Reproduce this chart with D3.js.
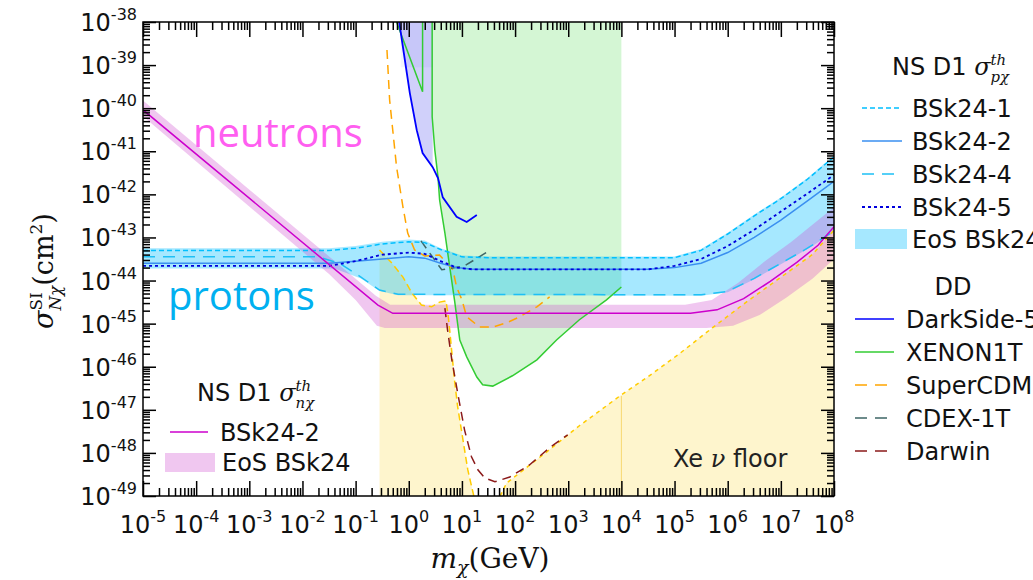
<!DOCTYPE html>
<html>
<head>
<meta charset="utf-8">
<script src="https://cdnjs.cloudflare.com/ajax/libs/d3/7.8.5/d3.min.js"></script>
<style>
  body { margin: 0; background: #fff; }
  svg { display: block; }
</style>
</head>
<body>
<div id="chart"></div>
<script>
// all values are [log10 m (GeV), log10 sigma (cm^2)]

// neutrons, NS D1 BSk24-2 and EoS band
const nLine = [[-5, -40.04], [-0.58, -44.57], [-0.3, -44.76], [5.3, -44.76], [5.8, -44.68], [6.3, -44.42],
  [6.8, -44.02], [7.3, -43.58], [7.7, -43.18], [8, -42.75]];
const nBandUp = [[-5, -39.82], [-0.62, -44.35], [-0.35, -44.56], [5.2, -44.56], [5.7, -44.45], [6.2, -44.05],
  [6.7, -43.55], [7.2, -43.1], [7.6, -42.7], [8, -42.3]];
const nBandLo = [[-5, -40.19], [-1.5, -43.85], [-1.0, -44.45], [-0.6, -45.05], [-0.45, -45.1], [5.6, -45.1],
  [6.1, -45.05], [6.6, -44.8], [7.1, -44.4], [7.6, -43.95], [8, -43.5]];

// protons, NS D1 lines and EoS band
const pBandUp = [[-5, -43.25], [-1.5, -43.25], [-1, -43.2], [-0.5, -43.1], [0, -43.05], [0.3, -43.07], [0.6, -43.25],
  [1, -43.42], [1.5, -43.44], [5.0, -43.44], [5.5, -43.27], [6, -42.89], [6.5, -42.47], [7, -42.07], [7.5, -41.62], [8, -41.1]];
const pBandLo = [[-5, -43.72], [-1.4, -43.72], [-0.9, -43.95], [-0.55, -44.24], [-0.2, -44.34], [5.5, -44.35],
  [6, -44.27], [6.5, -43.97], [7, -43.62], [7.5, -43.27], [8, -42.88]];
const p1 = [[-5, -43.3], [-1.5, -43.3], [-1, -43.25], [-0.5, -43.15], [0, -43.1], [0.3, -43.12], [0.6, -43.28],
  [1, -43.45], [1.5, -43.47], [5.0, -43.47], [5.5, -43.3], [6, -42.92], [6.5, -42.5], [7, -42.1], [7.5, -41.65], [8, -41.13]];
const p2 = [[-5, -43.6], [-1.5, -43.6], [-1, -43.55], [-0.5, -43.5], [0, -43.45], [0.3, -43.48], [0.6, -43.6],
  [0.9, -43.7], [1.2, -43.74], [4.5, -43.74], [5, -43.7], [5.5, -43.6], [6, -43.35], [6.5, -43.0], [7, -42.6], [7.5, -42.15], [8, -41.7]];
const p4 = [[-5, -43.45], [-1.7, -43.45], [-1.3, -43.6], [-0.9, -43.92], [-0.55, -44.22], [-0.2, -44.32], [5.5, -44.33],
  [6, -44.25], [6.5, -43.95], [7, -43.6], [7.5, -43.25], [8, -42.85]];
const p5 = [[-5, -43.66], [-1.5, -43.66], [-1, -43.55], [-0.5, -43.4], [0, -43.35], [0.3, -43.38], [0.6, -43.55],
  [0.9, -43.7], [1.2, -43.74], [4.5, -43.74], [5, -43.66], [5.5, -43.5], [6, -43.2], [6.5, -42.82], [7, -42.4], [7.5, -41.98], [8, -41.55]];

// direct detection
const darkside = [[-0.18, -38.0], [-0.11, -38.58], [0.02, -39.65], [0.15, -40.51], [0.26, -41.04], [0.45, -41.37],
  [0.55, -41.62], [0.64, -42.07], [0.9, -42.52], [1.09, -42.64], [1.28, -42.48]];
const darksideEdge = 0.45;
const darksideShade = -39.05;
const xenonV = [[-0.23, -38.0], [0.26, -39.62], [0.26, -38.0]];
const xenon = [[0.44, -38.0], [0.44, -40.2], [0.49, -40.97], [0.55, -41.6], [0.58, -42.13], [0.68, -42.9], [0.77, -43.68],
  [0.86, -44.45], [0.96, -45.38], [1.09, -45.77], [1.28, -46.24], [1.39, -46.42], [1.58, -46.45], [1.95, -46.21],
  [2.41, -45.84], [2.78, -45.38], [3.21, -44.91], [3.72, -44.45], [4.0, -44.15]];
const superCDMS = [[-0.41, -38.65], [-0.36, -39.81], [-0.23, -41.36], [-0.11, -42.29], [-0.02, -42.9], [0.11, -43.29],
  [0.3, -43.43], [0.58, -43.41], [0.83, -43.75], [0.9, -44.15], [1.0, -44.45], [1.09, -44.84], [1.33, -45.08],
  [1.58, -45.08], [1.84, -44.98], [2.09, -44.84], [2.41, -44.61], [2.65, -44.38]];
const cdex = [[0.23, -43.08], [0.62, -43.75], [1.05, -43.66], [1.47, -43.34]];
const darwin = [[0.68, -44.64], [0.73, -45.15], [0.81, -45.84], [0.92, -46.61], [1.05, -47.47], [1.18, -48.09],
  [1.3, -48.39], [1.43, -48.58], [1.62, -48.67], [1.9, -48.56], [2.27, -48.28], [2.65, -47.88], [2.99, -47.58]];

// Xe neutrino floor, two branches
const floorLow = [[-0.55, -43.29], [-0.3, -43.62], [-0.11, -43.92], [0.06, -44.29], [0.24, -44.57], [0.43, -44.61],
  [0.58, -44.5], [0.7, -44.47], [0.74, -44.8], [0.77, -45.15], [0.86, -46.31], [0.92, -46.93], [1.02, -47.7],
  [1.11, -48.39], [1.24, -49.09]];
const floorHigh = [[1.72, -49.0], [1.84, -48.7], [2.59, -47.98], [3.21, -47.37], [3.97, -46.68], [4.47, -46.26],
  [5.09, -45.7], [5.71, -45.1], [6.35, -44.5], [6.97, -43.95], [7.59, -43.4], [8, -42.83]];
const floorSplit = 4;

// axes
const xDecades = d3.range(-5, 9);
const yDecades = d3.range(-49, -37);

const pLegend = ["BSk24-1", "BSk24-2", "BSk24-4", "BSk24-5"];
const ddLegend = ["DarkSide-50", "XENON1T", "SuperCDMS", "CDEX-1T", "Darwin"];

const W = 1033, H = 580;
const L = 143, R = 834, T = 22, B = 496;

const svg = d3.select("#chart").append("svg")
  .attr("width", W).attr("height", H)
  .style("font-family", "DejaVu Sans");

const x = d3.scaleLog().domain([1e-5, 1e8]).range([L, R]);
const y = d3.scaleLog().domain([1e-49, 1e-38]).range([B, T]);
const X = d => x(Math.pow(10, d[0]));
const Y = d => y(Math.pow(10, d[1]));
const line = d3.line().x(X).y(Y);
const poly = pts => line(pts) + "Z";
const yLow = -49.3, yHigh = -37.9;

svg.append("clipPath").attr("id", "plot").append("rect")
  .attr("x", L).attr("y", T).attr("width", R - L).attr("height", B - T);
const g = svg.append("g").attr("clip-path", "url(#plot)");

// fills
const floorFill = "#fef5cd";
g.append("path").attr("d", poly([[floorLow[0][0], yLow], ...floorLow, [floorLow[floorLow.length - 1][0], yLow]]))
  .attr("fill", floorFill);
g.append("path").attr("d", poly([[floorHigh[0][0], yLow], ...floorHigh, [floorHigh[floorHigh.length - 1][0], yLow]]))
  .attr("fill", floorFill);

const xe = xenon.slice(1);
g.append("path").attr("d", poly([[xenon[0][0], yHigh], ...xe, [xe[xe.length - 1][0], yHigh]]))
  .attr("fill", "rgba(0,200,0,0.17)");

const ds = darkside.filter(d => d[0] <= darksideEdge);
g.append("path").attr("d", poly([[ds[0][0], yHigh], ...ds, [darksideEdge, yHigh]]))
  .attr("fill", "rgba(40,40,230,0.22)");
// slightly darker upper part of the DarkSide region
g.append("rect").attr("x", X([darksideEdge - 0.6, 0])).attr("y", T)
  .attr("width", X([darksideEdge, 0]) - X([darksideEdge - 0.6, 0]))
  .attr("height", Y([0, darksideShade]) - T)
  .attr("fill", "rgba(40,40,230,0.05)");

g.append("path").attr("d", poly([...pBandUp, ...pBandLo.slice().reverse()]))
  .attr("fill", "rgba(0,190,255,0.35)");
g.append("path").attr("d", poly([...nBandUp, ...nBandLo.slice().reverse()]))
  .attr("fill", "rgba(205,70,205,0.3)");

// lines
function drawLine(data, color, dash, width) {
  g.append("path").attr("d", line(data)).attr("fill", "none")
    .attr("stroke", color).attr("stroke-width", width || 1.5)
    .attr("stroke-dasharray", dash || null);
}
const floorCol = "#ffcc00";
drawLine(floorLow, floorCol, "7,4");
drawLine(floorHigh, floorCol, "4,4");
// vertical joint in the floor fill at 10^4 GeV
g.append("line")
  .attr("x1", x(Math.pow(10, floorSplit))).attr("x2", x(Math.pow(10, floorSplit)))
  .attr("y1", y(Math.pow(10, -46.68))).attr("y2", B)
  .attr("stroke", "#f7d870").attr("stroke-width", 1);

drawLine(xenonV, "#33cc33");
drawLine(xenon, "#33cc33");
drawLine(darkside, "#0000ff", null, 1.8);
drawLine(superCDMS, "#ffa500", "9,6");
drawLine(cdex, "#3e6666", "9,6");
drawLine(darwin, "#8b1a1a", "9,6");

const pStyles = [
  { c: "#00bfff", d: "5,3", w: 1.5 },
  { c: "#3a8ff0", d: null, w: 1.5 },
  { c: "#1ec0f5", d: "12,8", w: 1.5 },
  { c: "#0000dd", d: "3,3", w: 1.8 }
];
[p1, p2, p4, p5].forEach((p, i) => drawLine(p, pStyles[i].c, pStyles[i].d, pStyles[i].w));
drawLine(nLine, "#cc00cc");

// ticks, inward on all four sides
const xMinor = [], yMinor = [];
xDecades.slice(0, -1).forEach(k => d3.range(2, 10).forEach(j => xMinor.push(j * Math.pow(10, k))));
yDecades.slice(0, -1).forEach(k => d3.range(2, 10).forEach(j => yMinor.push(j * Math.pow(10, k))));
const xMajor = xDecades.map(k => Math.pow(10, k));
const yMajor = yDecades.map(k => Math.pow(10, k));

function ticks(axis, pos) {
  const a = svg.append("g").attr("transform", pos).call(axis);
  a.select(".domain").remove();
  a.selectAll("line").attr("stroke", "#000").attr("stroke-width", 1.5);
  a.selectAll("text").remove();
}
[[d3.axisBottom, `translate(0,${B})`], [d3.axisTop, `translate(0,${T})`]].forEach(([ax, pos]) => {
  ticks(ax(x).tickValues(xMajor).tickSize(-15), pos);
  ticks(ax(x).tickValues(xMinor).tickSize(-8), pos);
});
[[d3.axisLeft, `translate(${L},0)`], [d3.axisRight, `translate(${R},0)`]].forEach(([ax, pos]) => {
  ticks(ax(y).tickValues(yMajor).tickSize(-13), pos);
  ticks(ax(y).tickValues(yMinor).tickSize(-7), pos);
});

svg.append("rect").attr("x", L).attr("y", T).attr("width", R - L).attr("height", B - T)
  .attr("fill", "none").attr("stroke", "#000").attr("stroke-width", 1.5);

// tick labels
xDecades.forEach(k => {
  const t = svg.append("text").attr("x", x(Math.pow(10, k))).attr("y", 533)
    .attr("text-anchor", "middle").attr("font-size", 24).attr("fill", "#111");
  t.append("tspan").text("10");
  t.append("tspan").attr("font-size", 16).attr("dy", -11).text(String(k));
});
yDecades.forEach(k => {
  const t = svg.append("text").attr("x", 137).attr("y", y(Math.pow(10, k)) + 9)
    .attr("text-anchor", "end").attr("font-size", 24).attr("fill", "#111");
  t.append("tspan").text("10");
  t.append("tspan").attr("font-size", 16).attr("dy", -11).text(String(k));
});

// stacked super/subscript helper
function scripts(t, sup, sub, size, supItalic, subItalic, family) {
  const s = size * 0.62;
  const a = t.append("tspan").attr("font-size", s).attr("dy", -size * 0.42).attr("font-family", family || null)
    .attr("font-style", supItalic ? "italic" : "normal").text(sup);
  const l1 = a.node().getComputedTextLength();
  const b = t.append("tspan").attr("font-size", s).attr("dx", -l1).attr("dy", size * 0.72).attr("font-family", family || null)
    .attr("font-style", subItalic ? "italic" : "normal").text(sub);
  const l2 = b.node().getComputedTextLength();
  return { dx: Math.max(0, l1 - l2), dy: -size * 0.3 };
}

// axis titles
svg.append("text").attr("x", 490).attr("y", 568).attr("text-anchor", "middle")
  .attr("font-family", "DejaVu Serif").attr("font-size", 28).attr("fill", "#111")
  .call(t => {
    t.append("tspan").attr("font-style", "italic").text("m");
    t.append("tspan").attr("font-style", "italic").attr("font-size", 19).attr("dy", 6).text("χ");
    t.append("tspan").attr("dy", -6).text("(GeV)");
  });

const yl = svg.append("g").attr("transform", "translate(53,262) rotate(-90)");
const ylt = yl.append("text").attr("font-family", "DejaVu Serif").attr("font-size", 27).attr("fill", "#111");
ylt.append("tspan").attr("font-style", "italic").text("σ");
const ys = scripts(ylt, "SI", "Nχ", 27, false, true);
ylt.append("tspan").attr("dx", ys.dx).attr("dy", ys.dy).text("(cm");
ylt.append("tspan").attr("font-size", 17).attr("dy", -11).text("2");
ylt.append("tspan").attr("dy", 11).text(")");
ylt.attr("x", -ylt.node().getComputedTextLength() / 2);

// legend titles "NS D1 sigma^th_..."
function nsTitle(x0, y0, sub) {
  const t = svg.append("text").attr("x", x0).attr("y", y0).attr("font-size", 24).attr("fill", "#111");
  t.append("tspan").text("NS D1 ");
  t.append("tspan").attr("font-family", "DejaVu Serif").attr("font-style", "italic").text("σ");
  scripts(t, "th", sub, 24, true, true, "DejaVu Serif");
}

// proton legend
nsTitle(892, 75, "pχ");
pLegend.forEach((name, i) => {
  const yy = 108 + i * 33;
  svg.append("line").attr("x1", 862).attr("x2", 902).attr("y1", yy).attr("y2", yy)
    .attr("stroke", pStyles[i].c).attr("stroke-width", pStyles[i].w).attr("stroke-dasharray", pStyles[i].d);
  svg.append("text").attr("x", 912).attr("y", yy + 9).attr("font-size", 24).attr("fill", "#111").text(name);
});
svg.append("rect").attr("x", 855).attr("y", 229).attr("width", 52).attr("height", 20).attr("fill", "rgba(0,190,255,0.35)");
svg.append("text").attr("x", 912).attr("y", 248).attr("font-size", 24).attr("fill", "#111").text("EoS BSk24");

// DD legend
const ddStyles = [
  { c: "#0000ff", d: null }, { c: "#33cc33", d: null }, { c: "#ffa500", d: "12,8" },
  { c: "#3e6666", d: "12,8" }, { c: "#8b1a1a", d: "12,8" }
];
svg.append("text").attr("x", 953).attr("y", 295).attr("text-anchor", "middle").attr("font-size", 24).attr("fill", "#111").text("DD");
ddLegend.forEach((name, i) => {
  const yy = 319 + i * 33;
  svg.append("line").attr("x1", 855).attr("x2", 894).attr("y1", yy).attr("y2", yy)
    .attr("stroke", ddStyles[i].c).attr("stroke-width", 1.6).attr("stroke-dasharray", ddStyles[i].d);
  svg.append("text").attr("x", 906).attr("y", yy + 9).attr("font-size", 24).attr("fill", "#111").text(name);
});

// neutron legend inside the plot
nsTitle(197, 401, "nχ");
svg.append("line").attr("x1", 170).attr("x2", 208).attr("y1", 432).attr("y2", 432)
  .attr("stroke", "#cc00cc").attr("stroke-width", 1.5);
svg.append("text").attr("x", 220).attr("y", 441).attr("font-size", 24).attr("fill", "#111").text("BSk24-2");
svg.append("rect").attr("x", 165).attr("y", 453).attr("width", 50).attr("height", 19).attr("fill", "rgba(205,70,205,0.3)");
svg.append("text").attr("x", 222).attr("y", 471).attr("font-size", 24).attr("fill", "#111").text("EoS BSk24");

svg.append("text").attr("x", 673).attr("y", 467).attr("font-size", 24).attr("fill", "#222")
  .call(t => {
    t.append("tspan").text("Xe ");
    t.append("tspan").attr("font-family", "DejaVu Serif").attr("font-style", "italic").text("ν");
    t.append("tspan").text(" floor");
  });

// overlay annotations
svg.append("text").attr("x", 193).attr("y", 147).attr("font-family", "Open Sans").attr("font-size", 40)
  .attr("fill", "#ff5ef0").text("neutrons");
svg.append("text").attr("x", 168).attr("y", 310).attr("font-family", "Open Sans").attr("font-size", 40)
  .attr("fill", "#00b0f0").text("protons");
</script>
</body>
</html>
